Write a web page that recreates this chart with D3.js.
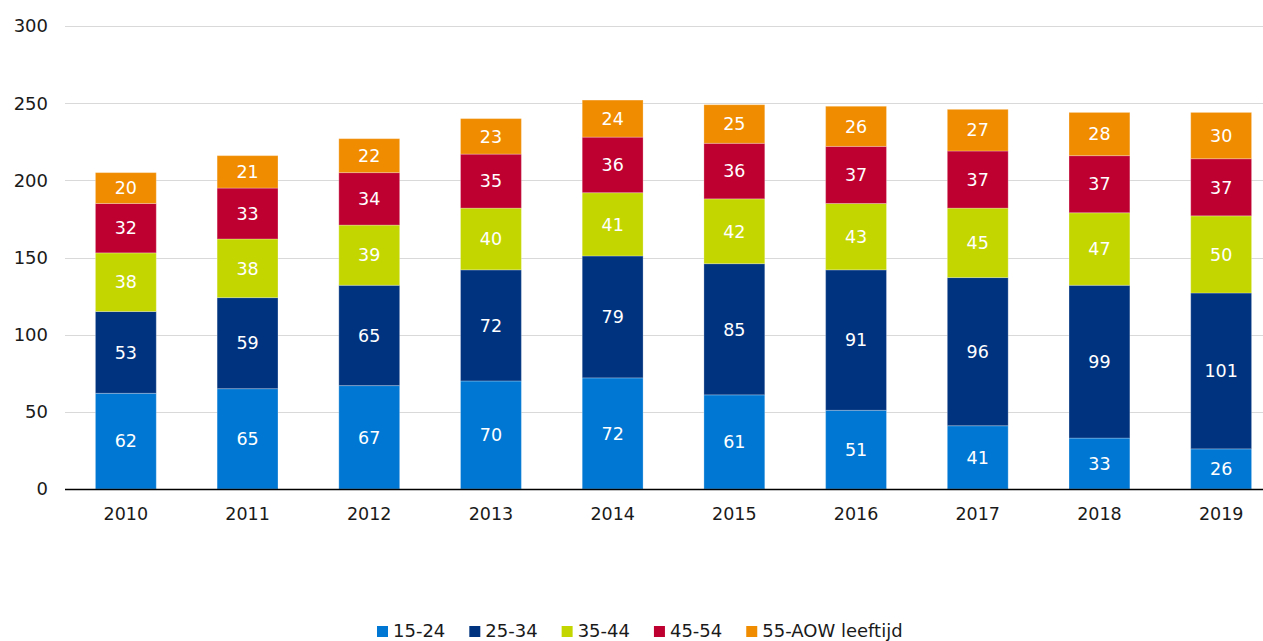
<!DOCTYPE html>
<html><head><meta charset="utf-8">
<script src="https://cdn.jsdelivr.net/npm/d3@7"></script>
<style>body{margin:0;background:#fff}svg{display:block}text{font-family:"DejaVu Sans",Verdana,sans-serif}</style>
</head><body><svg id="c" width="1263" height="641"></svg>
<script>
const years = ["2010","2011","2012","2013","2014","2015","2016","2017","2018","2019"];
const seriesNames = ["15-24","25-34","35-44","45-54","55-AOW leeftijd"];
const s1524 = [62,65,67,70,72,61,51,41,33,26];
const s2534 = [53,59,65,72,79,85,91,96,99,101];
const s3544 = [38,38,39,40,41,42,43,45,47,50];
const s4554 = [32,33,34,35,36,36,37,37,37,37];
const s55 = [20,21,22,23,24,25,26,27,28,30];
const colors = ["#0077d3","#00337f","#c4d600","#be0030","#f08c00"];
const yTicks = [0,50,100,150,200,250,300];

(function(){
const allSeries = [s1524,s2534,s3544,s4554,s55];
const rows = years.map((yr,i)=>{const r={year:yr};seriesNames.forEach((n,k)=>r[n]=allSeries[k][i]);return r;});
const stacked = d3.stack().keys(seriesNames)(rows);

const svg = d3.select("#c");
const mLeft=65, mRight=1282, mTop=26, mBottom=489;
const x = d3.scaleBand().domain(years).range([mLeft,mRight]).paddingInner(0.5).paddingOuter(0.25);
const y = d3.scaleLinear().domain([0,300]).range([mBottom,mTop]);

svg.append("g").selectAll("line").data(yTicks.filter(t=>t>0)).join("line")
  .attr("x1",mLeft).attr("x2",1263).attr("y1",d=>Math.round(y(d))+0.5).attr("y2",d=>Math.round(y(d))+0.5)
  .attr("stroke","#d9d9d9").attr("stroke-width",1);
svg.append("g").selectAll("text").data(yTicks).join("text")
  .attr("x",48).attr("y",d=>y(d)).attr("dy","0.36em").attr("text-anchor","end")
  .attr("font-size",18).attr("fill","#1a1a1a").text(d=>d);

const g = svg.append("g");
stacked.forEach((layer,k)=>{
  g.append("g").selectAll("rect").data(layer).join("rect")
    .attr("x",d=>x(d.data.year)).attr("width",x.bandwidth())
    .attr("y",d=>y(d[1])).attr("height",d=>y(d[0])-y(d[1]))
    .attr("fill",colors[k]).attr("stroke","rgba(255,255,255,0.25)").attr("stroke-width",1);
});
stacked.forEach((layer,k)=>{
  g.append("g").selectAll("text").data(layer).join("text")
    .attr("x",d=>x(d.data.year)+x.bandwidth()/2).attr("y",d=>y((d[0]+d[1])/2))
    .attr("dy","0.36em").attr("text-anchor","middle").attr("font-size",17.5).attr("fill","#fff")
    .text(d=>d[1]-d[0]);
});

svg.append("line").attr("x1",mLeft).attr("x2",1263).attr("y1",mBottom+0.5).attr("y2",mBottom+0.5)
  .attr("stroke","#000").attr("stroke-width",1.5);
svg.append("g").selectAll("text").data(years).join("text")
  .attr("x",d=>x(d)+x.bandwidth()/2).attr("y",514).attr("dy","0.36em").attr("text-anchor","middle")
  .attr("font-size",17.5).attr("fill","#1a1a1a").text(d=>d);

const leg = svg.append("g").attr("transform","translate(377,0)");
let cx=0;
seriesNames.forEach((n,k)=>{
  const it = leg.append("g");
  it.append("rect").attr("x",0).attr("y",-5).attr("width",11).attr("height",11).attr("fill",colors[k]);
  const t = it.append("text").attr("x",16).attr("y",0).attr("dy","0.36em").attr("font-size",18).attr("fill","#1a1a1a").text(n);
  const w = 16 + t.node().getComputedTextLength();
  it.attr("transform",`translate(${cx},631)`);
  cx += w + 24;
});
})();
</script></body></html>
